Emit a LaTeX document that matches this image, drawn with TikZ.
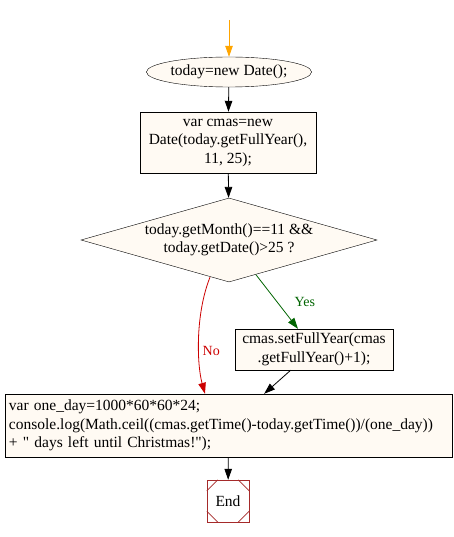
\documentclass[tikz,border=0pt]{standalone}
\usepackage{fontspec}
\setmainfont[Ligatures=TeXOff]{Liberation Serif}
\usepackage{tikz}
\usetikzlibrary{arrows.meta,shapes.geometric}

\definecolor{nodefill}{HTML}{FFFAF3}
\definecolor{endred}{HTML}{A52A2A}
\definecolor{yesgreen}{HTML}{006400}
\definecolor{nored}{HTML}{CC0000}
\definecolor{startorange}{HTML}{FFA500}

\begin{document}
\begin{tikzpicture}[x=1pt,y=-1pt,
  every node/.style={font=\fontsize{15.5}{18.5}\selectfont},
  box/.style={draw,fill=nodefill,inner sep=3pt,align=center},
  flow/.style={-{Triangle[length=11pt,width=7.5pt]},line width=0.8pt},
  edgelabel/.style={font=\fontsize{14}{16}\selectfont}]
  \useasboundingbox (0,0) rectangle (454,537);
  \coordinate (top) at (229,20);
  \node[box,ellipse,inner sep=0,minimum width=143,minimum height=30] (start) at (229,72) {today=new Date();};
  \node[box,minimum width=176,minimum height=61] (cmas) at (228,142.5) {var cmas=new\\Date(today.getFullYear(),\\11, 25);};
  \node[box,diamond,aspect=3.5,inner sep=0,minimum width=296,minimum height=84] (cond) at (229,240) {today.getMonth()==11 \&\&\\today.getDate()>25 ?};
  \node[box,minimum width=158,minimum height=41] (setyear) at (314,349.5) {cmas.setFullYear(cmas\\.getFullYear()+1);};
  \node[box,align=left,text width=439,inner sep=4pt,minimum height=63] (output) at (228.5,425.5) {var one\_day=1000*60*60*24;\\console.log(Math.ceil((cmas.getTime()-today.getTime())/(one\_day))\\+ " days left until Christmas!");};
  \node[draw=endred,fill=white,inner sep=0,minimum size=42] (end) at (228,501) {End};
  \draw[endred,line width=0.6pt] ([xshift=11]end.north west) -- ([yshift=-11]end.north west)
    ([xshift=-11]end.north east) -- ([yshift=-11]end.north east)
    ([xshift=11]end.south west) -- ([yshift=11]end.south west)
    ([xshift=-11]end.south east) -- ([yshift=11]end.south east);
  \draw[flow,startorange] (top) -- (start);
  \draw[flow] (start) -- (cmas);
  \draw[flow] (cmas) -- (cond);
  \draw[flow,yesgreen] (cond) -- node[edgelabel,pos=0.5,right=14pt] {Yes} (setyear);
  \draw[flow,nored] ([xshift=-19,yshift=5]cond.south) .. controls (195,315) and (197,365) .. ([xshift=-23.5]output.north) node[edgelabel,pos=0.6,right] {No};
  \draw[flow] (setyear) -- (output);
  \draw[flow] (output) -- (end);
\end{tikzpicture}
\end{document}
